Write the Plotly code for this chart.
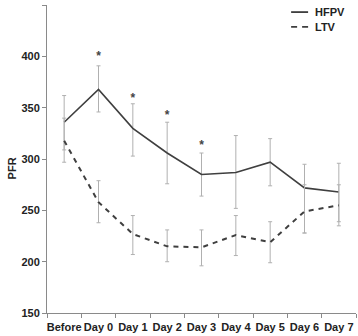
import plotly.graph_objects as go

categories = ["Before", "Day 0", "Day 1", "Day 2", "Day 3", "Day 4", "Day 5", "Day 6", "Day 7"]
hfpv = [336, 368, 330, 306, 285, 287, 297, 272, 268]
hfpv_err_plus = [26, 23, 24, 30, 21, 36, 23, 23, 28]
hfpv_err_minus = [39, 22, 27, 30, 21, 35, 23, 44, 33]
ltv = [318, 258, 227, 215, 214, 226, 219, 249, 255]
ltv_err_plus = [22, 21, 18, 16, 17, 19, 20, 26, 20]
ltv_err_minus = [9, 20, 20, 15, 18, 20, 20, 21, 16]
star_cats = ["Day 0", "Day 1", "Day 2", "Day 3"]
star_y = [400, 359, 342, 313]
series_names = ["HFPV", "LTV"]

line_col = "#3f3f3f"
err_col = "#b0b0b0"

fig = go.Figure()
fig.add_trace(go.Scatter(
    x=categories, y=hfpv, mode="lines", name=series_names[0],
    line=dict(color=line_col, width=1.6),
    error_y=dict(type="data", array=hfpv_err_plus, arrayminus=hfpv_err_minus,
                 color=err_col, thickness=1, width=2),
    showlegend=False,
))
fig.add_trace(go.Scatter(
    x=categories, y=ltv, mode="lines", name=series_names[1],
    line=dict(color=line_col, width=2, dash="5px,5px"),
    error_y=dict(type="data", array=ltv_err_plus, arrayminus=ltv_err_minus,
                 color=err_col, thickness=1, width=2),
    showlegend=False,
))
fig.add_trace(go.Scatter(
    x=star_cats, y=star_y, mode="text", text=["*"] * len(star_cats),
    textposition="middle center", showlegend=False,
    textfont=dict(family="Liberation Sans", size=12, color="#444444", weight=700),
    hoverinfo="skip",
))

# custom legend (short line samples as in the original)
leg_y = [0.977, 0.929]
leg_dash = ["solid", "6px,5px"]
for name, ly, dsh in zip(series_names, leg_y, leg_dash):
    fig.add_shape(type="line", xref="paper", yref="paper",
                  x0=0.79, x1=0.845, y0=ly, y1=ly,
                  line=dict(color=line_col, width=1.8, dash=dsh))
    fig.add_annotation(xref="paper", yref="paper", x=0.862, y=ly,
                       xanchor="left", yanchor="middle", showarrow=False,
                       text=name, font=dict(family="Liberation Sans", size=11,
                                            weight=700, color="#222222"))

fig.add_annotation(xref="paper", yref="paper", x=-0.115, y=0.471,
                   xanchor="center", yanchor="middle", showarrow=False,
                   textangle=-90, text="PFR",
                   font=dict(family="Liberation Sans", size=11, weight=700, color="#222222"))

fig.update_layout(
    width=358, height=336,
    margin=dict(l=47, r=2, t=5, b=23),
    paper_bgcolor="white", plot_bgcolor="white",
    font=dict(family="Liberation Sans Narrow, Liberation Sans", size=11, color="#222222"),
    showlegend=False,
)
fig.update_xaxes(
    type="category", range=[-0.5, 8.5], showgrid=False, automargin=False,
    showline=True, linecolor="#8a8a8a", linewidth=1,
    ticks="outside", tickson="boundaries", ticklen=4, tickcolor="#8a8a8a",
    tickangle=0, ticklabelstandoff=4,
    tickfont=dict(family="Liberation Sans Narrow, Liberation Sans", size=11, weight=700, color="#222222"),
)
fig.update_yaxes(
    range=[150, 450.3], tickvals=[150, 200, 250, 300, 350, 400, 450],
    showgrid=False, zeroline=False, automargin=False,
    showline=True, linecolor="#8a8a8a", linewidth=1,
    ticks="outside", ticklen=4, tickcolor="#8a8a8a",
    tickfont=dict(family="Liberation Sans", size=11, weight=700, color="#222222"),
)

fig.write_html("out.html", config={"displayModeBar": False},
               post_script="document.body.style.margin='0';document.body.style.overflow='hidden';")
